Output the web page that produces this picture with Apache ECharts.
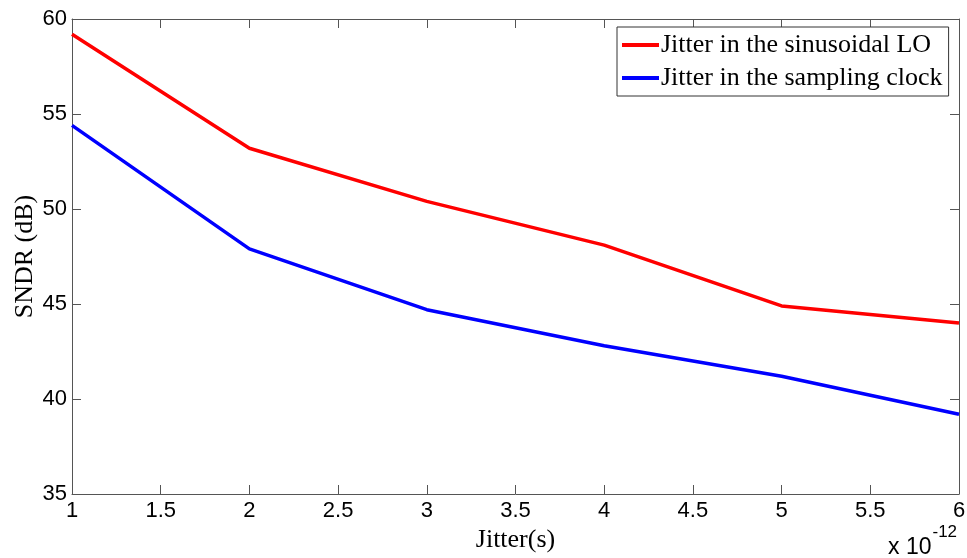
<!DOCTYPE html>
<html>
<head>
<meta charset="utf-8">
<script src="https://cdn.jsdelivr.net/npm/echarts@6/dist/echarts.min.js"></script>
<style>
  html, body { margin: 0; padding: 0; background: #fff; }
  #chart { width: 967px; height: 558px; }
</style>
</head>
<body>
<div id="chart"></div>
<script>
// Jitter values (in units of 1e-12 s)
const jitter = [1, 2, 3, 4, 5, 6];
// SNDR (dB) for jitter in the sinusoidal LO
const sndrLO = [59.2, 53.2, 50.4, 48.1, 44.9, 44.0];
// SNDR (dB) for jitter in the sampling clock
const sndrClock = [54.4, 47.9, 44.7, 42.8, 41.2, 39.2];
const seriesNames = ['Jitter in the sinusoidal LO', 'Jitter in the sampling clock'];

const axisColor = '#555';
const tickFont = { fontFamily: 'Liberation Sans, Arial, sans-serif', fontSize: 22, color: '#000' };
const serif = 'Liberation Serif, Times New Roman, serif';

const pairs = (xs, ys) => xs.map((x, i) => [x, ys[i]]);

const chart = echarts.init(document.getElementById('chart'), null, { renderer: 'canvas' });
chart.setOption({
  animation: false,
  backgroundColor: '#fff',
  grid: { left: 72, top: 19, right: 8, bottom: 64, containLabel: false, outerBoundsMode: 'none' },
  legend: {
    orient: 'vertical',
    left: 617,
    top: 27,
    padding: [5, 6, 5, 5],
    itemGap: 7,
    itemWidth: 37,
    itemHeight: 4,
    icon: 'rect',
    borderColor: '#333',
    borderWidth: 1,
    borderRadius: 0,
    backgroundColor: '#fff',
    textStyle: { fontFamily: serif, fontSize: 26, color: '#000', padding: [0, 0, 0, -3] },
    data: seriesNames
  },
  xAxis: [{
    type: 'value', min: 1, max: 6, interval: 0.5,
    name: 'Jitter(s)', nameLocation: 'middle', nameGap: 30,
    nameTextStyle: { fontFamily: serif, fontSize: 26, color: '#000' },
    axisLine: { show: true, onZero: false, lineStyle: { color: axisColor, width: 1 } },
    axisTick: { show: true, inside: true, length: 9, lineStyle: { color: axisColor } },
    axisLabel: Object.assign({ margin: 6, formatter: v => String(v) }, tickFont),
    splitLine: { show: false }
  }, {
    type: 'value', min: 1, max: 6, interval: 0.5, position: 'top',
    axisLine: { show: true, onZero: false, lineStyle: { color: axisColor, width: 1 } },
    axisTick: { show: true, inside: true, length: 9, lineStyle: { color: axisColor } },
    axisLabel: { show: false },
    splitLine: { show: false }
  }],
  yAxis: [{
    type: 'value', min: 35, max: 60, interval: 5,
    name: 'SNDR (dB)', nameLocation: 'middle', nameGap: 34, nameMoveOverlap: false,
    nameTextStyle: { fontFamily: serif, fontSize: 26, color: '#000' },
    axisLine: { show: true, onZero: false, lineStyle: { color: axisColor, width: 1 } },
    axisTick: { show: true, inside: true, length: 9, lineStyle: { color: axisColor } },
    axisLabel: Object.assign({ margin: 5 }, tickFont),
    splitLine: { show: false }
  }, {
    type: 'value', min: 35, max: 60, interval: 5, position: 'right',
    axisLine: { show: true, onZero: false, lineStyle: { color: axisColor, width: 1 } },
    axisTick: { show: true, inside: true, length: 9, lineStyle: { color: axisColor } },
    axisLabel: { show: false },
    splitLine: { show: false }
  }],
  series: [{
    name: seriesNames[0], type: 'line', xAxisIndex: 0, yAxisIndex: 0,
    data: pairs(jitter, sndrLO), showSymbol: false, symbol: 'none',
    lineStyle: { color: '#ff0000', width: 3.5 }, itemStyle: { color: '#ff0000' }
  }, {
    name: seriesNames[1], type: 'line', xAxisIndex: 0, yAxisIndex: 0,
    data: pairs(jitter, sndrClock), showSymbol: false, symbol: 'none',
    lineStyle: { color: '#0000ff', width: 3.5 }, itemStyle: { color: '#0000ff' }
  }],
  graphic: [{
    type: 'text', left: 888, top: 524,
    style: {
      text: '{b|x 10}{s|-12}',
      rich: {
        b: { fontFamily: 'Liberation Sans, Arial, sans-serif', fontSize: 23, fill: '#000', padding: [12, 0, 0, 0] },
        s: { fontFamily: 'Liberation Sans, Arial, sans-serif', fontSize: 17, fill: '#000', verticalAlign: 'top', padding: [0, 0, 14, 1] }
      }
    }
  }]
});
</script>
</body>
</html>
